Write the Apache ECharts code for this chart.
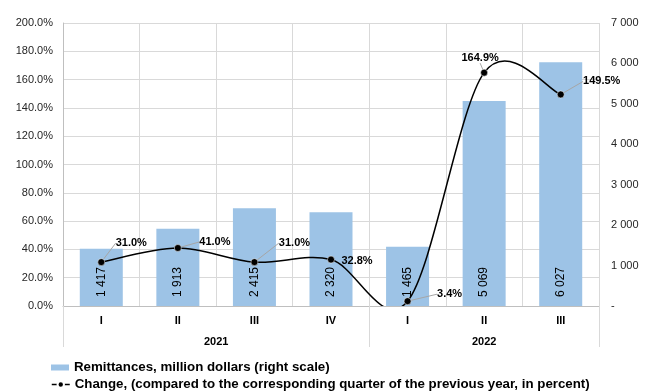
<!DOCTYPE html>
<html>
<head>
<meta charset="utf-8">
<script src="https://cdn.jsdelivr.net/npm/echarts@6/dist/echarts.min.js"></script>
<style>
  html, body { margin: 0; padding: 0; background: #fff; }
  #chart { width: 648px; height: 391px; }
</style>
</head>
<body>
<div id="chart"></div>
<script>
// Quarterly remittances and year-on-year change
const quarters = ['I', 'II', 'III', 'IV', 'I', 'II', 'III'];
const years = ['2021', '2022'];
const quartersPerYear = [4, 3];
const remittances = [1417, 1913, 2415, 2320, 1465, 5069, 6027];   // million dollars
const changePct = [31.0, 41.0, 31.0, 32.8, 3.4, 164.9, 149.5];    // percent

const barName = 'Remittances, million dollars (right scale)';
const lineName = 'Change, (compared to the corresponding quarter of the previous year, in percent)';

// Where each percentage label sits relative to its point, and whether it gets a leader line
const labelOffsets = [[30, -19], [37, -6], [40, -19], [26, 1], [42, -7], [-4, -15], [41, -13]];
const labelLeader = [true, true, true, false, true, true, true];

// Centres and edges of the year groups, in category units
const yearCentres = [];
const yearEdges = [0];
let acc = 0;
quartersPerYear.forEach(n => { yearCentres.push(acc + n / 2); acc += n; yearEdges.push(acc); });

const FONT = '"Liberation Sans", Arial, sans-serif';
const GRID = '#d9d9d9';

function spaced(n) {
  return String(Math.round(n)).replace(/\B(?=(\d{3})+(?!\d))/g, ' ');
}

// Cardinal-spline segment between point i and i+1 (tension 1/6), in pixel space
function renderCurveSegment(params, api) {
  const i = params.dataIndex;
  const n = changePct.length;
  if (i >= n - 1) return null;
  const pt = k => api.coord([Math.max(0, Math.min(n - 1, k)), changePct[Math.max(0, Math.min(n - 1, k))]]);
  const p0 = pt(i - 1), p1 = pt(i), p2 = pt(i + 1), p3 = pt(i + 2);
  const t = 1 / 6;
  return {
    type: 'bezierCurve',
    shape: {
      x1: p1[0], y1: p1[1],
      cpx1: p1[0] + (p2[0] - p0[0]) * t, cpy1: p1[1] + (p2[1] - p0[1]) * t,
      cpx2: p2[0] - (p3[0] - p1[0]) * t, cpy2: p2[1] - (p3[1] - p1[1]) * t,
      x2: p2[0], y2: p2[1]
    },
    style: { stroke: '#000', lineWidth: 1.5, fill: null }
  };
}

const legendText = { fontFamily: FONT, fontSize: 13.3, fontWeight: 'bold', color: '#000' };

const chart = echarts.init(document.getElementById('chart'), null, { renderer: 'canvas' });

chart.setOption({
  animation: false,
  textStyle: { fontFamily: FONT },
  grid: { left: 63, right: 49, top: 23, bottom: 85, containLabel: false },
  legend: [
    {
      left: 51, top: 361, padding: 0,
      itemWidth: 18, itemHeight: 6,
      textStyle: legendText,
      data: [{ name: barName, icon: 'rect' }]
    },
    {
      left: 51, top: 378, padding: 0,
      itemWidth: 18, itemHeight: 8,
      textStyle: legendText,
      data: [{ name: lineName, lineStyle: { color: '#000', width: 1.5, opacity: 1 } }]
    }
  ],
  xAxis: [
    {
      type: 'category',
      data: quarters,
      boundaryGap: true,
      axisLine: { show: true, lineStyle: { color: '#bfbfbf' } },
      axisTick: { show: false },
      splitLine: { show: true, lineStyle: { color: GRID } },
      axisLabel: { margin: 9, fontFamily: FONT, fontSize: 11, fontWeight: 'bold', color: '#000' }
    },
    {
      type: 'value',
      min: 0,
      max: quarters.length,
      position: 'bottom',
      axisLine: { show: false },
      splitLine: { show: false },
      axisTick: { show: true, customValues: yearEdges, length: 41, lineStyle: { color: GRID } },
      axisLabel: {
        customValues: yearCentres,
        margin: 30,
        fontFamily: FONT, fontSize: 11, fontWeight: 'bold', color: '#000',
        formatter: v => years[yearCentres.indexOf(v)] || ''
      }
    }
  ],
  yAxis: [
    {
      type: 'value',
      min: 0, max: 200, interval: 20,
      axisLine: { show: true, lineStyle: { color: '#bfbfbf' } },
      axisTick: { show: false },
      splitLine: { show: true, lineStyle: { color: GRID } },
      axisLabel: { margin: 10, fontFamily: FONT, fontSize: 11, color: '#262626', formatter: v => v.toFixed(1) + '%' }
    },
    {
      type: 'value',
      min: 0, max: 7000, interval: 1000,
      position: 'right',
      axisLine: { show: false },
      axisTick: { show: false },
      splitLine: { show: false },
      axisLabel: { margin: 12, fontFamily: FONT, fontSize: 11, color: '#262626', formatter: v => v === 0 ? '-' : spaced(v) }
    }
  ],
  series: [
    {
      name: barName,
      type: 'bar',
      xAxisIndex: 0,
      yAxisIndex: 1,
      data: remittances,
      barWidth: 43,
      itemStyle: { color: '#9dc3e6' },
      label: {
        show: true,
        position: 'insideBottom',
        distance: 9,
        rotate: 90,
        align: 'left',
        verticalAlign: 'middle',
        fontFamily: FONT, fontSize: 12, color: '#000',
        formatter: p => spaced(p.value)
      },
      z: 2
    },
    {
      // smoothed curve through the change values, clipped to the plot area
      name: 'curve',
      type: 'custom',
      xAxisIndex: 0,
      yAxisIndex: 0,
      clip: true,
      data: changePct.map((v, i) => [i, v]),
      renderItem: renderCurveSegment,
      silent: true,
      z: 4
    },
    {
      name: lineName,
      type: 'line',
      xAxisIndex: 0,
      yAxisIndex: 0,
      symbol: 'circle',
      symbolSize: 7,
      lineStyle: { color: '#000', width: 1.5, opacity: 0 },
      itemStyle: { color: '#000', borderColor: '#fff', borderWidth: 0.5 },
      data: changePct.map((v, i) => ({ value: v, labelLine: { show: labelLeader[i] } })),
      label: {
        show: true,
        fontFamily: FONT, fontSize: 11, fontWeight: 'bold', color: '#000',
        formatter: p => p.value.toFixed(1) + '%'
      },
      labelLine: { show: true, lineStyle: { color: '#a6a6a6', width: 1 } },
      labelLayout: p => {
        const off = labelOffsets[p.dataIndex];
        const cx = p.rect.x + p.rect.width / 2;
        const cy = p.rect.y + p.rect.height / 2;
        return { x: cx + off[0], y: cy + off[1], align: 'center', verticalAlign: 'middle' };
      },
      z: 5
    }
  ]
});
</script>
</body>
</html>
